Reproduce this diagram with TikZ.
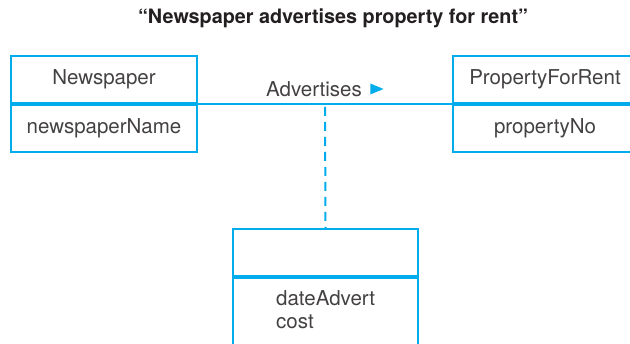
\documentclass[tikz,border=0pt]{standalone}
\usepackage{fontspec}
\setmainfont{TeX Gyre Heros}
\usetikzlibrary{positioning,shapes.geometric,calc}
\definecolor{umlblue}{RGB}{0,172,236}
\definecolor{titlegray}{RGB}{35,31,32}
\tikzset{
  classbox/.style={draw=umlblue, line width=2pt, minimum width=186pt, minimum height=47pt,
    inner sep=0pt, text=titlegray!85, font=\fontsize{20.5}{23}\selectfont},
  assoc/.style={umlblue, line width=2pt},
  linkline/.style={umlblue, line width=2pt, dash pattern=on 9pt off 6pt}
}
\begin{document}
\begin{tikzpicture}[x=1pt, y=-1pt]
    \clip (0,0) rectangle (630,344);

    % Title
    \node[font=\bfseries\fontsize{19.8}{22}\selectfont, text=titlegray] (title) at (333,18)
        {``Newspaper advertises property for rent''};

    % Classes
    \node[classbox] (news) at (104,79.5) {Newspaper};
    \node[classbox, below=0pt of news] (newsattr) {newspaperName};
    \node[classbox, minimum width=184pt] (prop) at (545,79.5) {PropertyForRent};
    \node[classbox, minimum width=184pt, below=0pt of prop] (propattr) {propertyNo};

    % Association class
    \node[classbox, minimum width=185pt] (advert) at (325.5,252.5) {};
    \node[classbox, minimum width=185pt, minimum height=90pt, below=0pt of advert] (advertattr) {};
    \node[anchor=north west, align=left, inner sep=0pt, text=titlegray!85,
          font=\fontsize{20.5}{23}\selectfont] (advertlist) at (276,290)
        {dateAdvert\\cost};

    % Association and its name
    \draw[assoc] (newsattr.north east) -- (propattr.north west);
    \coordinate (assocmid) at ($(newsattr.north east)!0.5!(propattr.north west)$);
    \node[text=titlegray!85, font=\fontsize{20.5}{23}\selectfont, inner sep=0pt] (assocname) at (314,89) {Advertises};
    \node[isosceles triangle, fill=umlblue, inner sep=0pt, minimum height=12pt, minimum width=11pt,
          right=8pt of assocname] (dirmark) {};

    % Link to association class
    \draw[linkline] (assocmid) ++(0,3) coordinate (linktop) -- (advert.north);
\end{tikzpicture}
\end{document}
